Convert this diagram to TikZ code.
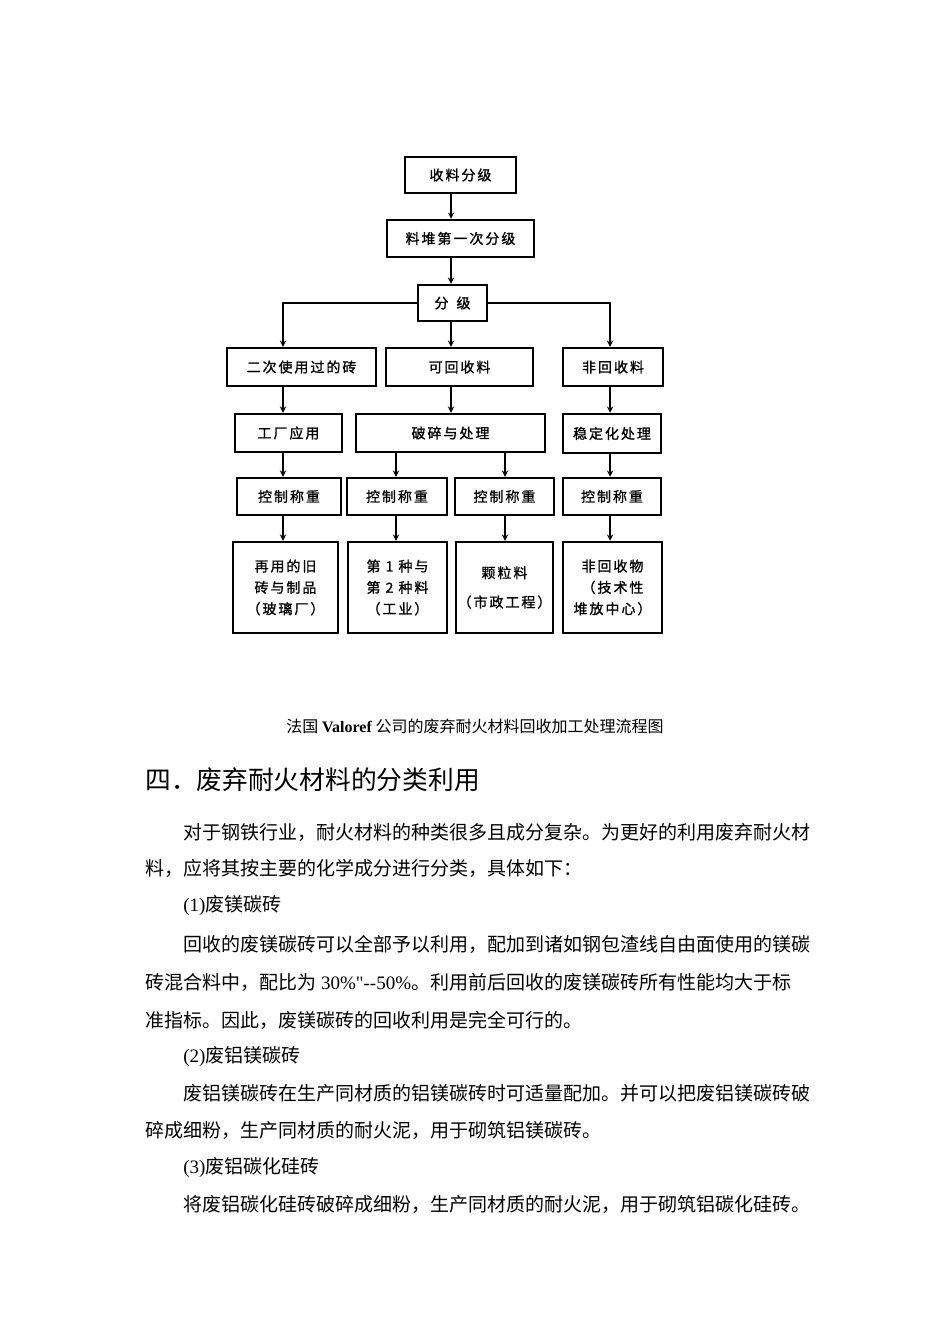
\documentclass[tikz,border=0pt]{standalone}
\usepackage{fontspec}
\setmainfont{Liberation Serif}
\newfontfamily\latfont{Liberation Serif}
\newfontfamily\cjk{Noto Sans CJK SC}
\newfontfamily\boxcjk[LetterSpace=14,FakeBold=1.2]{Noto Sans CJK SC}
\usepackage{tikz}
\usetikzlibrary{arrows}
\newcommand{\lat}[1]{{\latfont #1}}
\tikzset{
	>=stealth,
	box/.style={draw=black, line width=1.8pt, inner sep=0pt, align=center,
		font={\boxcjk\fontsize{10.5pt}{16pt}\selectfont}},
	flow/.style={->, draw=black, line width=1.1pt},
	txt/.style={anchor=west, inner sep=0pt,
		font={\cjk\fontsize{14.25pt}{18pt}\selectfont}},
}

\begin{document}
\begin{tikzpicture}[x=0.75pt, y=-0.75pt]
	\fill[white] (0,0) rectangle (950,1344);
	\useasboundingbox (0,0) rectangle (950,1344);
	% flow chart
	\node[box, minimum width=83.3pt, minimum height=27pt] (shou) at (460.5,175) {收料分级};
	\node[box, minimum width=110.3pt, minimum height=27.8pt] (liao) at (460.5,238.5) {料堆第一次分级};
	\node[box, minimum width=51.8pt, minimum height=27pt] (fen) at (452.5,303) {分\hspace{6pt}级};
	\node[box, minimum width=111.8pt, minimum height=28.5pt] (erci) at (301.5,367) {二次使用过的砖};
	\node[box, minimum width=110.3pt, minimum height=28.5pt] (kehui) at (459.5,367) {可回收料};
	\node[box, minimum width=75pt, minimum height=28.5pt] (feihui) at (613,367) {非回收料};
	\node[box, minimum width=80.3pt, minimum height=28.5pt] (gong) at (288.5,433) {工厂应用};
	\node[box, minimum width=141.8pt, minimum height=28.5pt] (posui) at (450.5,433) {破碎与处理};
	\node[box, minimum width=73.5pt, minimum height=29.3pt] (wending) at (612,433.5) {稳定化处理};
	\node[box, minimum width=78pt, minimum height=27.8pt] (kzA) at (289,496.5) {控制称重};
	\node[box, minimum width=75pt, minimum height=27.8pt] (kzB) at (397,496.5) {控制称重};
	\node[box, minimum width=74.3pt, minimum height=27.8pt] (kzC) at (504.5,496.5) {控制称重};
	\node[box, minimum width=73.5pt, minimum height=27.8pt] (kzD) at (612,496.5) {控制称重};
	\node[box, minimum width=78.8pt, minimum height=68.3pt] (outA) at (285.5,587.5) {再用的旧\\砖与制品\\（玻璃厂）};
	\node[box, minimum width=74.3pt, minimum height=68.3pt] (outB) at (397.5,587.5) {第 1 种与\\第 2 种料\\（工业）};
	\node[box, minimum width=72.8pt, minimum height=68.3pt] (outC) at (504.5,587.5) {颗粒料\\[6pt]（市政工程）};
	\node[box, minimum width=74.3pt, minimum height=68.3pt] (outD) at (612.5,587.5) {非回收物\\（技术性\\堆放中心）};
	\coordinate (cL) at (283,0);
	\coordinate (cM) at (451,0);
	\coordinate (cR) at (610,0);
	\coordinate (cA) at (396,0);
	\coordinate (cB) at (505,0);
	\draw[flow] (shou.south -| cM) -- (liao.north -| cM);
	\draw[flow] (liao.south -| cM) -- (fen.north -| cM);
	\draw[flow] (fen.south -| cM) -- (kehui.north -| cM);
	\draw[flow] (fen.west) -| (cL |- erci.north);
	\draw[flow] (fen.east) -| (cR |- feihui.north);
	\draw[flow] (erci.south -| cL) -- (gong.north -| cL);
	\draw[flow] (kehui.south -| cM) -- (posui.north -| cM);
	\draw[flow] (feihui.south -| cR) -- (wending.north -| cR);
	\draw[flow] (gong.south -| cL) -- (kzA.north -| cL);
	\draw[flow] (posui.south -| cA) -- (kzB.north -| cA);
	\draw[flow] (posui.south -| cB) -- (kzC.north -| cB);
	\draw[flow] (wending.south -| cR) -- (kzD.north -| cR);
	\draw[flow] (kzA.south -| cL) -- (outA.north -| cL);
	\draw[flow] (kzB.south -| cA) -- (outB.north -| cA);
	\draw[flow] (kzC.south -| cB) -- (outC.north -| cB);
	\draw[flow] (kzD.south -| cR) -- (outD.north -| cR);
	% caption and text
	\node[inner sep=0pt, font={\cjk\fontsize{12pt}{14pt}\selectfont}] (cap) at (475,726)
		{法国 \lat{\textbf{Valoref}} 公司的废弃耐火材料回收加工处理流程图};
	\node[anchor=west, inner sep=0pt, font={\cjk\fontsize{19.3pt}{22pt}\selectfont}] (head) at (145,780)
		{四．废弃耐火材料的分类利用};
	\node[txt] (l1) at (183,832) {对于钢铁行业，耐火材料的种类很多且成分复杂。为更好的利用废弃耐火材};
	\node[txt] (l2) at (145,868) {料，应将其按主要的化学成分进行分类，具体如下：};
	\node[txt] (l3) at (183,906) {\lat{(1)}废镁碳砖};
	\node[txt] (l4) at (183,944) {回收的废镁碳砖可以全部予以利用，配加到诸如钢包渣线自由面使用的镁碳};
	\node[txt] (l5) at (145,982) {砖混合料中，配比为\lat{ 30\%"--50\%}。利用前后回收的废镁碳砖所有性能均大于标};
	\node[txt] (l6) at (145,1020) {准指标。因此，废镁碳砖的回收利用是完全可行的。};
	\node[txt] (l7) at (183,1057) {\lat{(2)}废铝镁碳砖};
	\node[txt] (l8) at (183,1093) {废铝镁碳砖在生产同材质的铝镁碳砖时可适量配加。并可以把废铝镁碳砖破};
	\node[txt] (l9) at (145,1130) {碎成细粉，生产同材质的耐火泥，用于砌筑铝镁碳砖。};
	\node[txt] (l10) at (183,1167) {\lat{(3)}废铝碳化硅砖};
	\node[txt] (l11) at (183,1204) {将废铝碳化硅砖破碎成细粉，生产同材质的耐火泥，用于砌筑铝碳化硅砖。};
\end{tikzpicture}
\end{document}
